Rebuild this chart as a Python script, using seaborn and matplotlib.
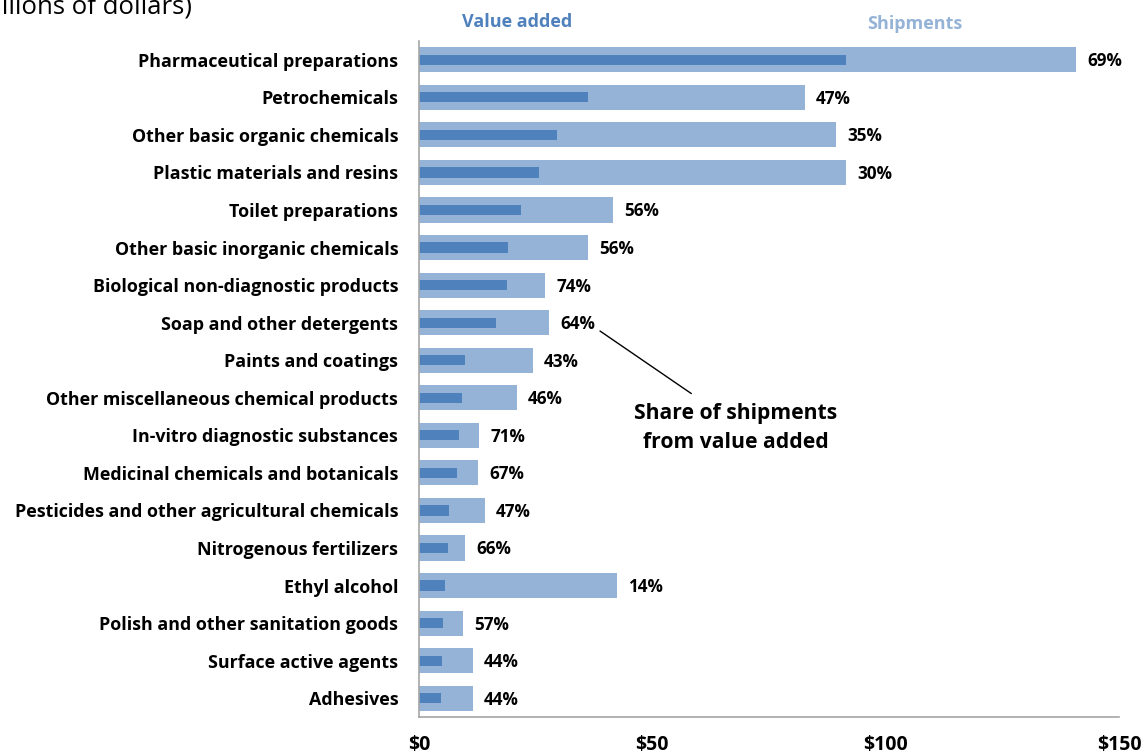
import matplotlib
matplotlib.use("Agg")
import matplotlib.pyplot as plt
import seaborn as sns
import pandas as pd

categories = [
    "Pharmaceutical preparations", "Petrochemicals", "Other basic organic chemicals",
    "Plastic materials and resins", "Toilet preparations", "Other basic inorganic chemicals",
    "Biological non-diagnostic products", "Soap and other detergents", "Paints and coatings",
    "Other miscellaneous chemical products", "In-vitro diagnostic substances",
    "Medicinal chemicals and botanicals", "Pesticides and other agricultural chemicals",
    "Nitrogenous fertilizers", "Ethyl alcohol", "Polish and other sanitation goods",
    "Surface active agents", "Adhesives",
]
shipments = [140.8, 82.7, 89.4, 91.5, 41.6, 36.2, 27.0, 27.9, 24.4, 21.0,
             12.9, 12.6, 14.1, 9.9, 42.4, 9.4, 11.6, 11.6]
value_added = [91.5, 36.2, 29.6, 25.7, 21.9, 19.1, 18.9, 16.5, 9.9, 9.2,
               8.6, 8.1, 6.4, 6.2, 5.6, 5.1, 4.9, 4.7]
share_labels = ["69%", "47%", "35%", "30%", "56%", "56%", "74%", "64%", "43%", "46%",
                "71%", "67%", "47%", "66%", "14%", "57%", "44%", "44%"]
x_ticks = [0, 50, 100, 150]
x_tick_labels = ["$0", "$50", "$100", "$150"]

df = pd.DataFrame({"category": categories, "shipments": shipments, "value_added": value_added})

sns.set_style("white")
plt.rcParams["font.family"] = ["Open Sans", "DejaVu Sans"]
plt.rcParams["text.color"] = "black"
plt.rcParams["xtick.color"] = "black"
plt.rcParams["ytick.color"] = "black"

C_SHIP = "#95B3D7"
C_VA = "#4F81BD"

fig = plt.figure(figsize=(11.43, 7.55), dpi=100)
ax = fig.add_axes([419 / 1143, 1 - 717 / 755, (1119 - 419) / 1143, (717 - 41) / 755])

sns.barplot(data=df, x="shipments", y="category", order=categories, color=C_SHIP,
            width=0.67, linewidth=0, saturation=1, ax=ax, errorbar=None)
sns.barplot(data=df, x="value_added", y="category", order=categories, color=C_VA,
            width=0.27, linewidth=0, saturation=1, ax=ax, errorbar=None)

for i, (s, lab) in enumerate(zip(shipments, share_labels)):
    ax.annotate(lab, xy=(s, i), xytext=(8, -1), textcoords="offset points",
                ha="left", va="center", fontsize=12.3, fontweight="bold", color="black")

ax.set_xlim(0, 150)
ax.set_ylim(len(categories) - 0.5, -0.5)
ax.set_xticks(x_ticks)
ax.set_xticklabels(x_tick_labels)
ax.set_xlabel("")
ax.set_ylabel("")
ax.tick_params(axis="x", length=0, pad=13, labelsize=14, labelcolor="black")
ax.tick_params(axis="y", length=0, pad=15, labelsize=12.9, labelcolor="black")
for t in ax.get_xticklabels() + ax.get_yticklabels():
    t.set_fontweight("bold")

for side in ["top", "right"]:
    ax.spines[side].set_visible(False)
for side in ["left", "bottom"]:
    ax.spines[side].set_color("#A6A6A6")
    ax.spines[side].set_linewidth(1.2)

fig.text(192 / 1143, 1 - 13 / 755, "(Billions of dollars)", ha="right", va="baseline",
         fontsize=18.5, color="black")
fig.text(517 / 1143, 1 - 22 / 755, "Value added", ha="center", va="center",
         fontsize=13, fontweight="bold", color=C_VA)
fig.text(915 / 1143, 1 - 24 / 755, "Shipments", ha="center", va="center",
         fontsize=13, fontweight="bold", color=C_SHIP)

ax.annotate("Share of shipments\nfrom value added", xy=(600 / 1143, 1 - 331 / 755),
            xycoords="figure fraction", xytext=(736 / 1143, 1 - 428 / 755),
            textcoords="figure fraction", ha="center", va="center",
            fontsize=15.2, fontweight="bold", linespacing=1.45, color="black",
            arrowprops=dict(arrowstyle="-", color="black", lw=1,
                            shrinkA=0, shrinkB=0, relpos=(0.28, 1.2)))

fig.savefig("out.png", dpi=100)
